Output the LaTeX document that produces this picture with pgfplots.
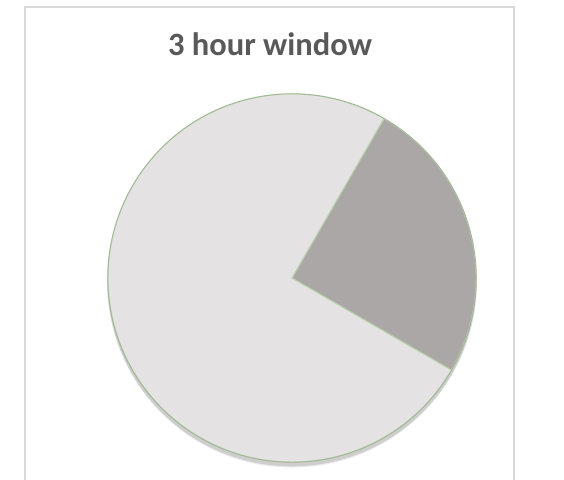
\documentclass[border=0pt]{standalone}
\usepackage{pgfplots}
\usepackage{pgfplotstable}
\pgfplotsset{compat=1.18}
\usepackage{fontspec}
\setmainfont{Carlito}
\definecolor{sliceA}{HTML}{ABA7A6}
\definecolor{sliceB}{HTML}{E4E2E3}
\definecolor{edgeG}{HTML}{B4CFA6}
\definecolor{titleC}{HTML}{595959}
\definecolor{frameC}{HTML}{D9D9D9}
\pgfplotstableread{
label value
Dark 25
Light 75
}\piedata
\begin{document}
\begin{tikzpicture}
\useasboundingbox (0pt,0pt) rectangle (564pt,479pt);
\clip (0pt,0pt) rectangle (564pt,479pt);
\fill[white] (0pt,0pt) rectangle (564pt,479pt);
\draw[frameC, line width=1.5pt] (25pt,-20pt) -- (25pt,472pt) -- (514pt,472pt) -- (514pt,-20pt);
\node[anchor=base, font=\bfseries\fontsize{32.5}{38}\selectfont, text=titleC, inner sep=0pt] at (270pt,423pt) {3 hour window};
\pgfplotstablegetelem{0}{value}\of\piedata
\pgfmathsetmacro{\vA}{\pgfplotsretval}
\pgfplotstablegetelem{1}{value}\of\piedata
\pgfmathsetmacro{\vB}{\pgfplotsretval}
\pgfmathsetmacro{\startA}{-30}
\pgfmathsetmacro{\deltaA}{\vA/(\vA+\vB)*360}
\pgfmathsetmacro{\startB}{\startA+\deltaA}
\pgfmathsetmacro{\deltaB}{\vB/(\vA+\vB)*360}
\begin{axis}[
  at={(292pt,201pt)}, anchor=center,
  scale only axis, width=368pt, height=368pt,
  xmin=-1, xmax=1, ymin=-1, ymax=1,
  hide axis, clip=false]
  \fill[black, opacity=0.12] (axis cs:0,-0.018) circle[radius=185pt];
  \fill[black, opacity=0.08] (axis cs:0,-0.03) circle[radius=184pt];
  \filldraw[fill=sliceA, draw=edgeG, line width=1pt, line join=round]
    (axis cs:0,0) -- ++(\startA:184pt) arc[start angle=\startA, delta angle=\deltaA, radius=184pt] -- cycle;
  \filldraw[fill=sliceB, draw=edgeG, line width=1pt, line join=round]
    (axis cs:0,0) -- ++(\startB:184pt) arc[start angle=\startB, delta angle=\deltaB, radius=184pt] -- cycle;
  \draw[edgeG!80!black, line width=0.8pt, opacity=0.6] (axis cs:0,0) circle[radius=184.3pt];
\end{axis}
\end{tikzpicture}
\end{document}
